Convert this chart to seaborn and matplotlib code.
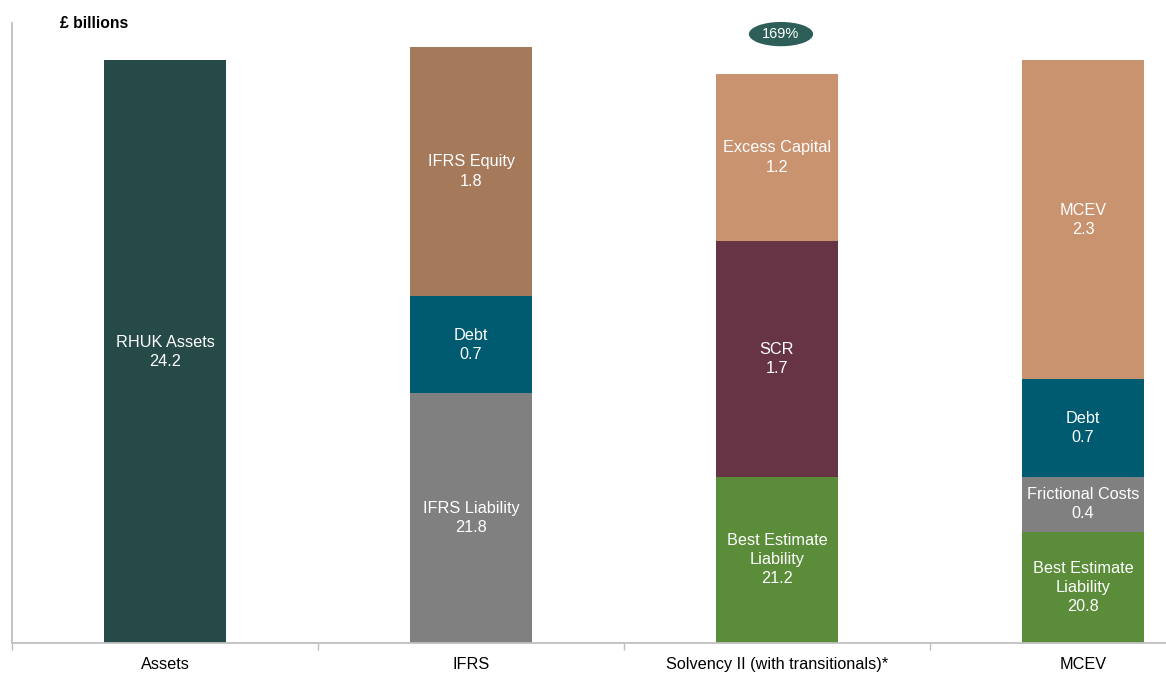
import matplotlib
matplotlib.use("Agg")
import matplotlib.pyplot as plt
from matplotlib.patches import Ellipse
from matplotlib.ticker import FixedLocator
import seaborn as sns
import pandas as pd

# Balance sheet views (£ billions), segments listed bottom to top
categories = ["Assets", "IFRS", "Solvency II (with transitionals)*", "MCEV"]

assets_labels = ["RHUK Assets"]
assets_values = [24.2]

ifrs_labels = ["IFRS Liability", "Debt", "IFRS Equity"]
ifrs_values = [21.8, 0.7, 1.8]

solvency_labels = ["Best Estimate\nLiability", "SCR", "Excess Capital"]
solvency_values = [21.2, 1.7, 1.2]

mcev_labels = ["Best Estimate\nLiability", "Frictional Costs", "Debt", "MCEV"]
mcev_values = [20.8, 0.4, 0.7, 2.3]

coverage_ratio = "169%"

C_ASSET = "#264a48"
C_EQUITY = "#a57a5a"
C_DEBT = "#005a70"
C_GREY = "#808080"
C_EXCESS = "#c99370"
C_SCR = "#663445"
C_BEL = "#5a8c3a"

stacks = {
    "Assets": (assets_labels, assets_values, [C_ASSET]),
    "IFRS": (ifrs_labels, ifrs_values, [C_GREY, C_DEBT, C_EQUITY]),
    "Solvency II (with transitionals)*": (solvency_labels, solvency_values, [C_BEL, C_SCR, C_EXCESS]),
    "MCEV": (mcev_labels, mcev_values, [C_BEL, C_GREY, C_DEBT, C_EXCESS]),
}

# Long table: one row per segment, with its cumulative top
rows = []
for cat, (labels, values, colors) in stacks.items():
    base = 0.0
    for depth, (lab, val, col) in enumerate(zip(labels, values, colors)):
        rows.append(dict(category=cat, label=lab, value=val, bottom=base,
                         top=base + val, depth=depth, color=col))
        base += val
df = pd.DataFrame(rows)

plt.rcParams["font.family"] = ["Liberation Sans", "DejaVu Sans"]

fig = plt.figure(figsize=(11.66, 6.73), dpi=100)
ax = fig.add_axes([12 / 1166, 1 - 643 / 673, 1224 / 1166, 620 / 673])

# Draw cumulative tops from the highest layer down so lower layers cover them
for depth in sorted(df["depth"].unique(), reverse=True):
    layer = df[df["depth"] == depth]
    present = list(layer["category"])
    palette = dict(zip(layer["category"], layer["color"]))
    sns.barplot(data=layer, x="category", y="top", hue="category",
                order=categories, hue_order=present, palette=palette,
                width=0.4, saturation=1, errorbar=None, legend=False,
                dodge=False, ax=ax, linewidth=0)

# Segment labels (bottom segments centred on their visible part above the axis floor)
y_floor = 20
for _, r in df.iterrows():
    i = categories.index(r["category"])
    lo = max(r["bottom"], y_floor)
    ax.text(i, (lo + r["top"]) / 2,
            f"{r['label']}\n{r['value']:.1f}", ha="center", va="center",
            color="white", fontsize=11.7, linespacing=1.35)

ax.set_ylim(y_floor, 24.47)
ax.set_xlim(-0.5, 3.5)
ax.set_xlabel("")
ax.set_ylabel("")
ax.set_yticks([])

for s in ["top", "right"]:
    ax.spines[s].set_visible(False)
for s in ["left", "bottom"]:
    ax.spines[s].set_color("#bfbfbf")
    ax.spines[s].set_linewidth(1.3)

ax.tick_params(axis="x", which="major", length=0, labelsize=11.7, pad=10, colors="black")
ax.xaxis.set_minor_locator(FixedLocator([-0.5, 0.5, 1.5, 2.5, 3.5]))
ax.tick_params(axis="x", which="minor", length=5, width=1, color="#bfbfbf", direction="out")

# Solvency coverage ratio badge
sii = categories.index("Solvency II (with transitionals)*")
ax.add_patch(Ellipse((sii + 0.013, 24.39), width=0.21, height=0.175,
                     facecolor="#2d5f58", edgecolor="none", clip_on=False, zorder=5))
ax.text(sii + 0.013, 24.39, coverage_ratio, ha="center", va="center",
        color="white", fontsize=10.5, zorder=6)

fig.text(60 / 1166, 1 - 23 / 673, "£ billions", ha="left", va="center",
         fontsize=11.3, fontweight="bold")

fig.savefig("out.png", dpi=100)
